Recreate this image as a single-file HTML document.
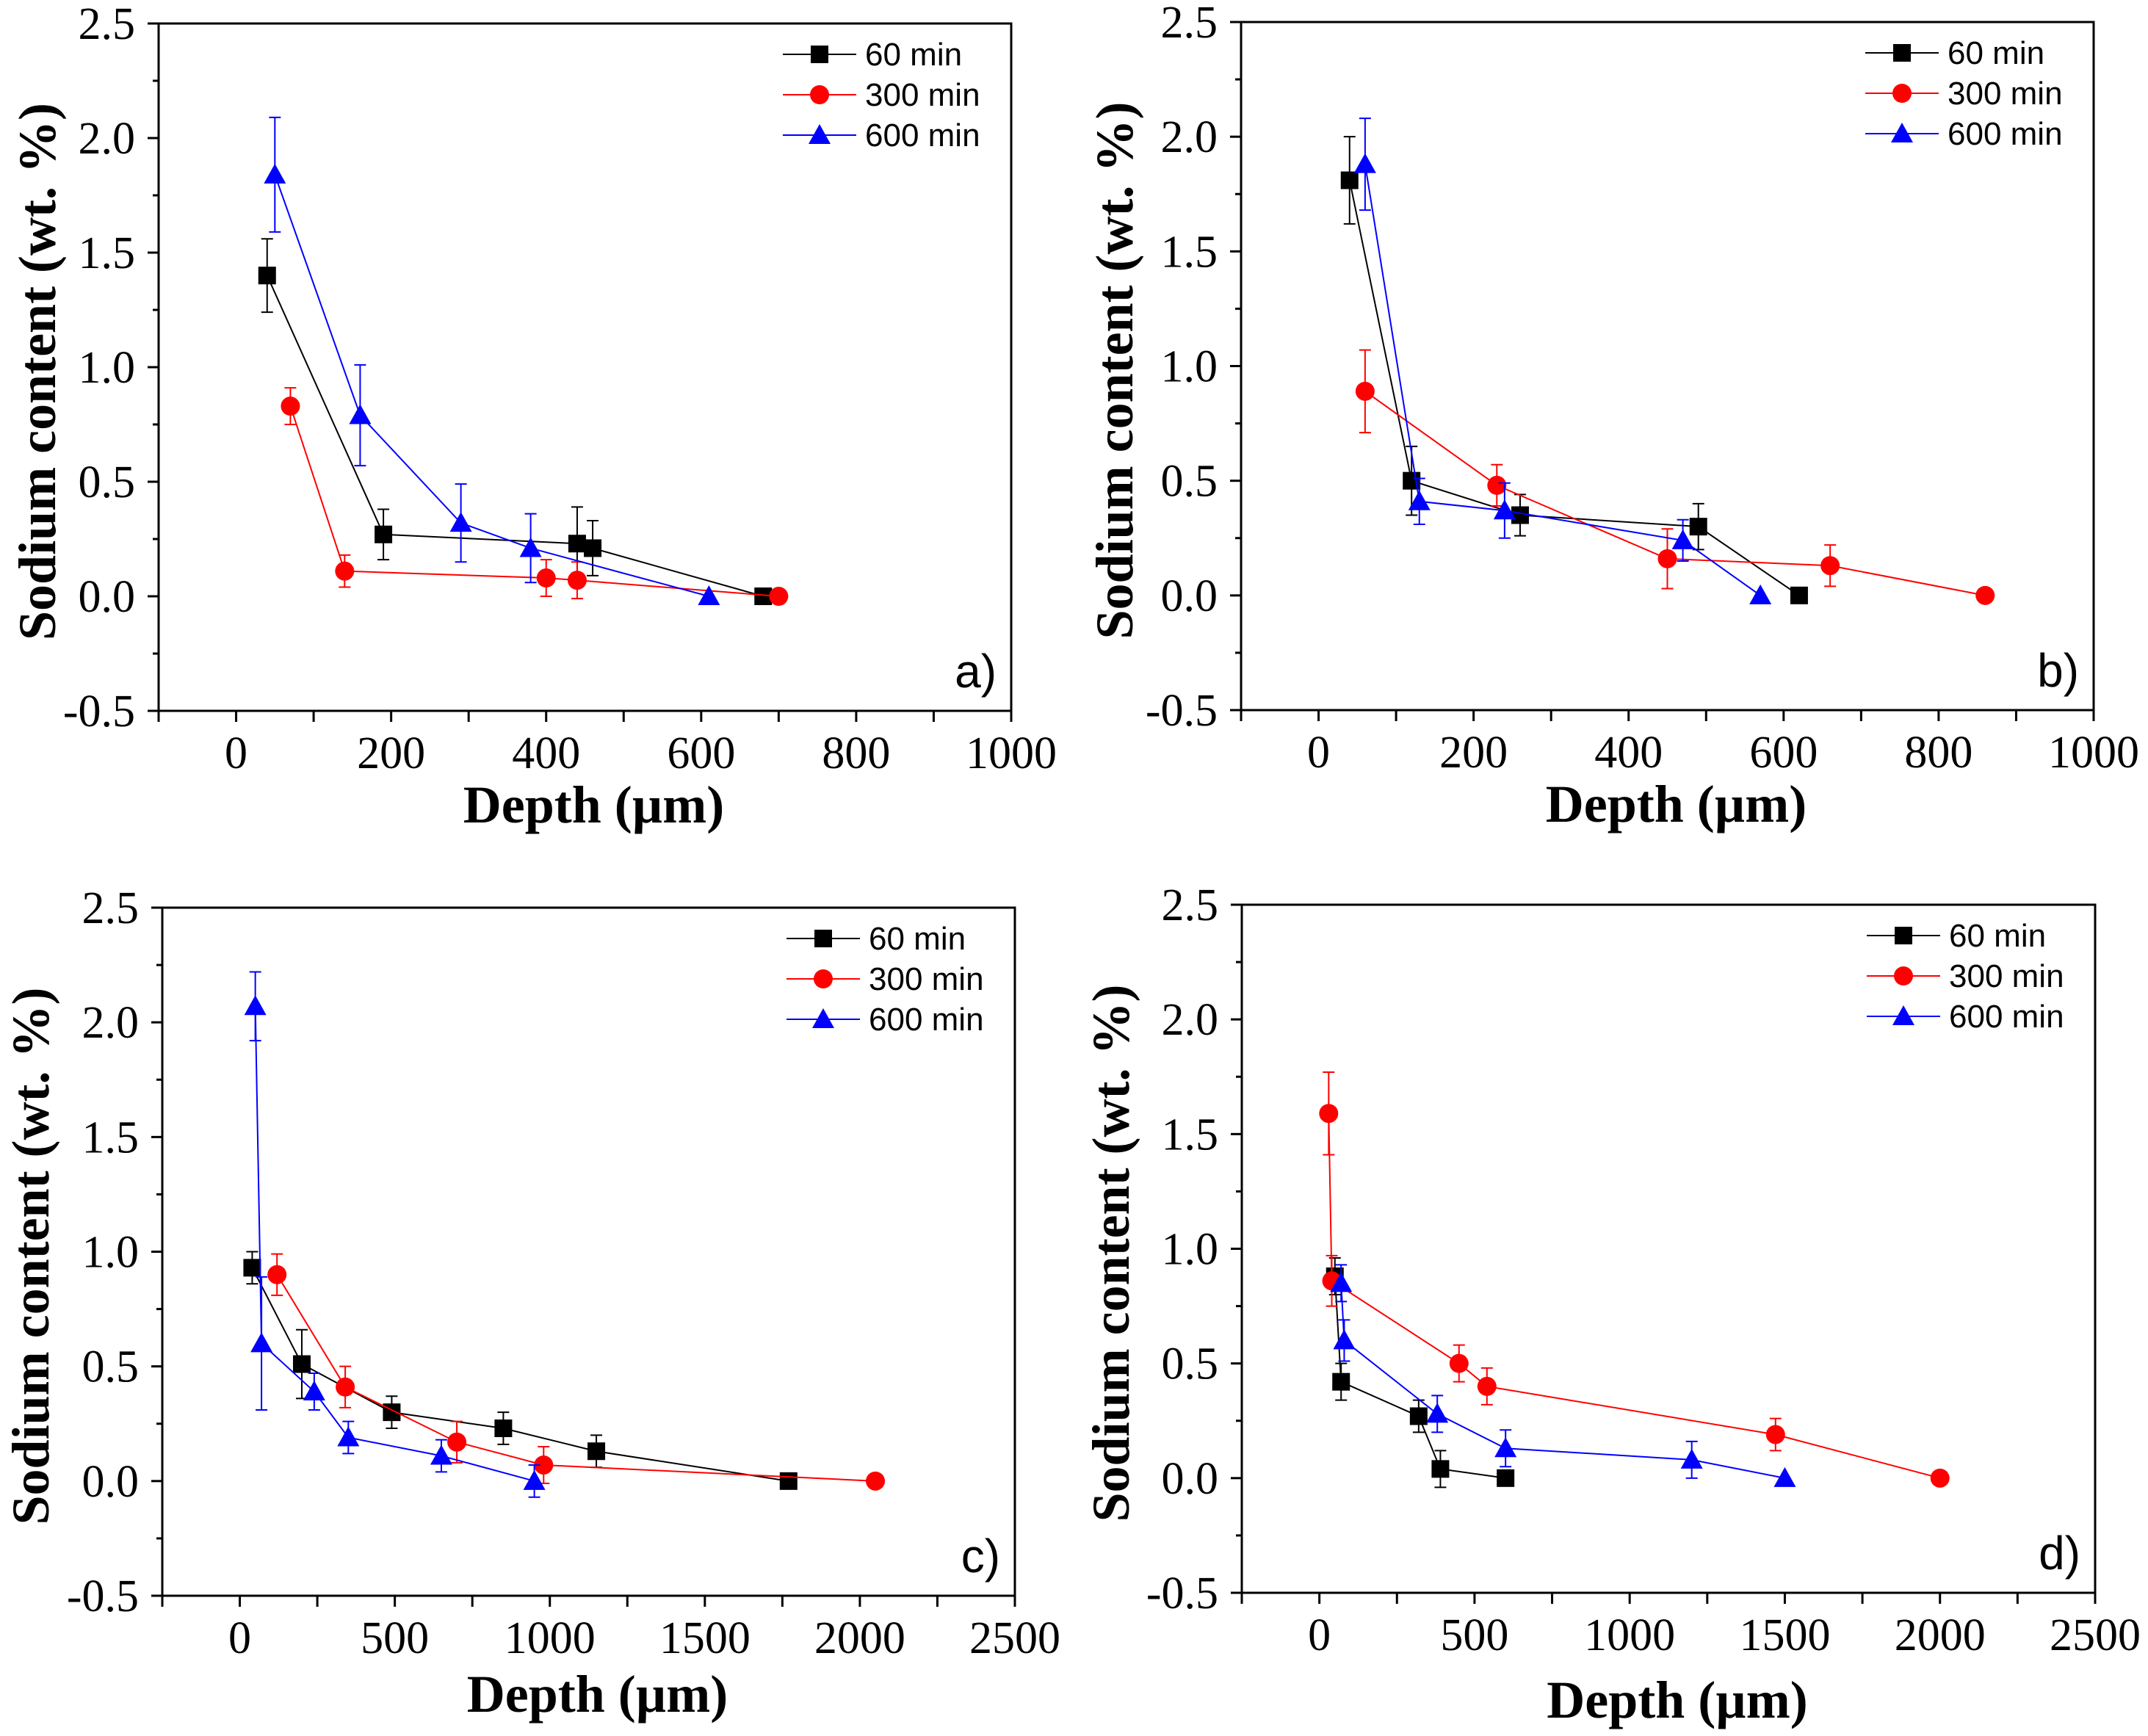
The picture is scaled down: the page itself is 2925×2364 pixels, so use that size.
<!DOCTYPE html>
<html><head><meta charset="utf-8"><style>
html,body{margin:0;padding:0;background:#fff;}
svg{display:block;}
.serif{font-family:"Liberation Serif","DejaVu Serif","Times New Roman",serif;font-weight:normal;}
.serifb{font-family:"Liberation Serif","Times New Roman",serif;font-weight:bold;}
.sans{font-family:"Liberation Sans",Arial,sans-serif;}
</style></head><body>
<svg id="fig" width="2925" height="2364" viewBox="0 0 2925 2364" xmlns="http://www.w3.org/2000/svg"></svg>
<script>
// ---- Data arrays (top-level) ----
const seriesNames = ["60 min","300 min","600 min"];
const panelLabels = ["a)","b)","c)","d)"];
const yTicks = [-0.5,0.0,0.5,1.0,1.5,2.0,2.5];
const yTickLabels = ["-0.5","0.0","0.5","1.0","1.5","2.0","2.5"];
const xTicksAB = [0,200,400,600,800,1000];
const xTicksCD = [0,500,1000,1500,2000,2500];

// panel a
const aX60 = [40,190,440,460,680];       const aY60 = [1.40,0.27,0.23,0.21,0];   const aE60 = [0.16,0.11,0.16,0.12,0];
const aX300 = [70,140,400,440,700];      const aY300 = [0.83,0.11,0.08,0.07,0];  const aE300 = [0.08,0.07,0.08,0.08,0];
const aX600 = [50,160,290,380,610];      const aY600 = [1.84,0.79,0.32,0.21,0];  const aE600 = [0.25,0.22,0.17,0.15,0];
// panel b
const bX60 = [40,120,260,490,620];       const bY60 = [1.81,0.50,0.35,0.30,0];   const bE60 = [0.19,0.15,0.09,0.10,0];
const bX300 = [60,230,450,660,860];      const bY300 = [0.89,0.48,0.16,0.13,0];  const bE300 = [0.18,0.09,0.13,0.09,0];
const bX600 = [60,130,240,470,570];      const bY600 = [1.88,0.41,0.37,0.24,0];  const bE600 = [0.20,0.10,0.12,0.09,0];
// panel c
const cX60 = [40,200,490,850,1150,1770]; const cY60 = [0.93,0.51,0.30,0.23,0.13,0]; const cE60 = [0.07,0.15,0.07,0.07,0.07,0];
const cX300 = [120,340,700,980,2050];    const cY300 = [0.90,0.41,0.17,0.07,0];  const cE300 = [0.09,0.09,0.09,0.08,0];
const cX600 = [50,70,240,350,650,950];   const cY600 = [2.07,0.60,0.39,0.19,0.11,0]; const cE600 = [0.15,0.29,0.08,0.07,0.07,0.07];
// panel d
const dX60 = [50,70,320,390,600];        const dY60 = [0.88,0.42,0.27,0.04,0];   const dE60 = [0.08,0.08,0.07,0.08,0];
const dX300 = [30,40,450,540,1470,2000]; const dY300 = [1.59,0.86,0.50,0.40,0.19,0]; const dE300 = [0.18,0.11,0.08,0.08,0.07,0];
const dX600 = [70,80,380,600,1200,1500]; const dY600 = [0.85,0.60,0.28,0.13,0.08,0]; const dE600 = [0.08,0.09,0.08,0.08,0.08,0];

const NS = "http://www.w3.org/2000/svg";
const fig = document.getElementById('fig');
function mk(tag, attrs, parent){
  const e = document.createElementNS(NS, tag);
  for (const k in attrs) e.setAttribute(k, attrs[k]);
  (parent||fig).appendChild(e);
  return e;
}
const colors = ["#000000","#ff0000","#0000ff"];
const markerTypes = ["square","circle","triangle"];

function marker(g, type, cx, cy, color){
  let m;
  if (type==="square") m = mk('rect',{x:cx-12,y:cy-12,width:24,height:24,fill:color},g);
  else if (type==="circle") m = mk('circle',{cx:cx,cy:cy,r:13,fill:color},g);
  else m = mk('polygon',{points:`${cx},${cy-15} ${cx+15},${cy+12} ${cx-15},${cy+12}`,fill:color},g);
  
  
  return m;
}

function panel(idx, L, R, T, B, xmin, xmax, xticks, xminor, series, yTitleX, xTitleY){
  const g = mk('g',{});
  
  
  const sx = v => L + (v - xmin) / (xmax - xmin) * (R - L);
  const sy = v => B - (v + 0.5) / 3.0 * (B - T);
  const fr = mk('rect',{x:L,y:T,width:R-L,height:B-T,fill:'none',stroke:'#000','stroke-width':3},g);
  
  
  for (let i=0;i<yTicks.length;i++){
    const y = sy(yTicks[i]);
    mk('line',{x1:L-15,x2:L,y1:y,y2:y,stroke:'#000','stroke-width':3},g);
    if (i<yTicks.length-1){ const ym = sy(yTicks[i]+0.25); mk('line',{x1:L-8,x2:L,y1:ym,y2:ym,stroke:'#000','stroke-width':3},g); }
    const t = mk('text',{x:L-32,y:y+21,'text-anchor':'end','class':'serif','font-size':62},g);
    t.textContent = yTickLabels[i];
    
    
  }
  for (let v = xmin; v <= xmax + 1e-6; v += xminor){
    const x = sx(v);
    mk('line',{x1:x,x2:x,y1:B,y2:B+15,stroke:'#000','stroke-width':3},g);
  }
  for (let i=0;i<xticks.length;i++){
    const t = mk('text',{x:sx(xticks[i]),y:B+78,'text-anchor':'middle','class':'serif','font-size':62},g);
    t.textContent = String(xticks[i]);
    
    
  }
  const xt = mk('text',{x:(L+R)/2+12,y:xTitleY,'text-anchor':'middle','class':'serifb','font-size':72},g);
  xt.textContent = 'Depth (\u00b5m)';
  
  
  const yc = (T+B)/2 + 6;
  const yt = mk('text',{x:yTitleX,y:yc,'text-anchor':'middle','class':'serifb','font-size':72,transform:`rotate(-90 ${yTitleX} ${yc}) translate(0 24)`},g);
  yt.textContent = 'Sodium content (wt. %)';
  
  
  series.forEach((s, k) => {
    const sg = mk('g',{},g);
    
    
    const pts = s.x.map((v,i)=> sx(v)+','+sy(s.y[i])).join(' ');
    mk('polyline',{points:pts,fill:'none',stroke:colors[k],'stroke-width':2},sg);
    for (let i=0;i<s.x.length;i++){
      const x = sx(s.x[i]);
      if (s.e[i] > 0){
        const y1 = sy(s.y[i]+s.e[i]), y2 = sy(s.y[i]-s.e[i]);
        const eb = mk('path',{d:`M${x},${y1}V${y2}M${x-8},${y1}H${x+8}M${x-8},${y2}H${x+8}`,stroke:colors[k],'stroke-width':2,fill:'none'},sg);
        
        
      }
      marker(sg, markerTypes[k], x, sy(s.y[i]), colors[k]);
    }
  });
  const lg = mk('g',{},g);
  
  
  for (let k=0;k<3;k++){
    const ly = T + 42 + k*55;
    const lx = R - 311;
    mk('line',{x1:lx,x2:lx+100,y1:ly,y2:ly,stroke:colors[k],'stroke-width':2},lg);
    marker(lg, markerTypes[k], lx+50, ly, colors[k]);
    const t = mk('text',{x:lx+112,y:ly+15,'class':'sans','font-size':44},lg);
    t.textContent = seriesNames[k];
    
    
  }
  const pl = mk('text',{x:R-20,y:B-32,'text-anchor':'end','class':'sans','font-size':64},g);
  pl.textContent = panelLabels[idx];
  
  
}

panel(0, 216, 1377, 32, 968, -100, 1000, xTicksAB, 100,
  [{x:aX60,y:aY60,e:aE60},{x:aX300,y:aY300,e:aE300},{x:aX600,y:aY600,e:aE600}], 51, 1120);
panel(1, 1690, 2851, 30, 967, -100, 1000, xTicksAB, 100,
  [{x:bX60,y:bY60,e:bE60},{x:bX300,y:bY300,e:bE300},{x:bX600,y:bY600,e:bE600}], 1518, 1119);
panel(2, 221, 1382, 1236, 2173, -250, 2500, xTicksCD, 250,
  [{x:cX60,y:cY60,e:cE60},{x:cX300,y:cY300,e:cE300},{x:cX600,y:cY600,e:cE600}], 42, 2331);
panel(3, 1691, 2853, 1232, 2169, -250, 2500, xTicksCD, 250,
  [{x:dX60,y:dY60,e:dE60},{x:dX300,y:dY300,e:dE300},{x:dX600,y:dY600,e:dE600}], 1513, 2339);
</script>
</body></html>
